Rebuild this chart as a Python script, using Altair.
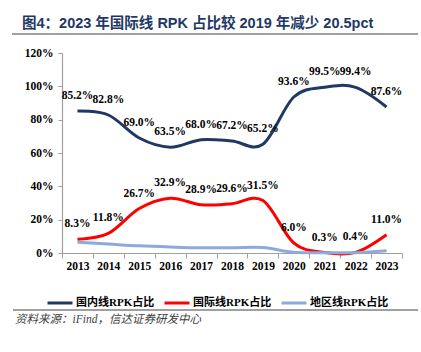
import altair as alt
import pandas as pd

years = ["2013", "2014", "2015", "2016", "2017", "2018", "2019", "2020", "2021", "2022", "2023"]
domestic = [85.2, 82.8, 69.0, 63.5, 68.0, 67.2, 65.2, 93.6, 99.5, 99.4, 87.6]
international = [8.3, 11.8, 26.7, 32.9, 28.9, 29.6, 31.5, 6.0, 0.3, 0.4, 11.0]
regional = [6.5, 5.4, 4.3, 3.6, 3.1, 3.2, 3.3, 0.4, 0.2, 0.2, 1.4]
series_names = ["国内线RPK占比", "国际线RPK占比", "地区线RPK占比"]
series_colors = ["#203864", "#FF0000", "#8EA9DB"]
y_ticks = [0, 20, 40, 60, 80, 100, 120]

title_text = "图4：2023 年国际线 RPK 占比较 2019 年减少 20.5pct"
source_text = "资料来源：iFind，信达证券研发中心"

rows = []
for name, vals in zip(series_names, [domestic, international, regional]):
    for y, v in zip(years, vals):
        rows.append({"year": y, "series": name, "value": v,
                     "label": f"{v:.1f}%"})
df = pd.DataFrame(rows)

SERIF = "Liberation Serif, Times New Roman, Noto Sans CJK SC"
SANS = "Liberation Sans, Arial, Noto Sans CJK SC"

x_scale = alt.Scale(type="band", paddingInner=0, paddingOuter=0)
y_scale = alt.Scale(domain=[0, 120], nice=False)

x_axis = alt.Axis(title=None, labelAngle=0, tickBand="extent",
                  labelFont=SERIF, labelFontWeight="bold", labelFontSize=11.5,
                  labelColor="#000000", domainColor="#A0A0A0", tickColor="#A0A0A0",
                  tickSize=5, labelPadding=2, domainWidth=1.2, labelOverlap=False)
y_axis = alt.Axis(title=None, values=y_ticks,
                  labelExpr="datum.value + '%'", grid=False, labelOverlap=False,
                  labelFont=SERIF, labelFontWeight="bold", labelFontSize=11.5,
                  labelColor="#000000", domainColor="#A0A0A0", tickColor="#A0A0A0",
                  tickSize=4, labelPadding=5, domainWidth=1.2)

x_enc = alt.X("year:N", sort=years, bandPosition=0.5, scale=x_scale, axis=x_axis)
y_enc = alt.Y("value:Q", scale=y_scale, axis=y_axis)

color_enc = alt.Color("series:N", sort=series_names,
                      scale=alt.Scale(domain=series_names, range=series_colors),
                      legend=alt.Legend(title=None, orient="none", legendX=-16, legendY=236,
                                        direction="horizontal", columns=3,
                                        symbolType="stroke", symbolSize=625,
                                        symbolStrokeWidth=3, labelFont=SERIF,
                                        labelFontWeight="bold", labelFontSize=11,
                                        labelColor="#000000", columnPadding=3,
                                        labelOffset=2))

base = alt.Chart(df)

lines = base.mark_line(interpolate="cardinal", strokeWidth=3).encode(
    x=x_enc, y=y_enc, color=color_enc)

labels = base.transform_filter(
    alt.FieldOneOfPredicate(field="series", oneOf=series_names[:2])
).mark_text(dy=-15, font=SERIF, fontWeight="bold", fontSize=11.5, color="#000000").encode(
    x=x_enc, y=y_enc, text="label:N")

one = alt.Data(values=[{"k": 1}])
title = alt.Chart(one).mark_text(text=title_text, align="left", baseline="middle",
                                 font=SANS, fontWeight="bold", fontSize=14.5,
                                 color="#1F3864").encode(x=alt.value(-40), y=alt.value(-29))
top_rule = alt.Chart(one).mark_rule(color="#808080", strokeWidth=1.5).encode(
    x=alt.value(-50), x2=alt.value(356), y=alt.value(-19))
bottom_rule = alt.Chart(one).mark_rule(color="#808080", strokeWidth=1.5).encode(
    x=alt.value(-49), x2=alt.value(356), y=alt.value(257))
source = alt.Chart(one).mark_text(text=source_text, align="left", baseline="middle",
                                  font=SERIF, fontStyle="italic", fontSize=11.5,
                                  color="#404040").encode(x=alt.value(-47), y=alt.value(267))

chart = alt.layer(lines, labels, title, top_rule, bottom_rule, source).properties(
    width=340, height=200,
    autosize=alt.AutoSizeParams(type="none"),
    padding={"left": 62, "top": 53, "right": 19, "bottom": 99},
    background="white",
).configure_view(stroke=None)

chart.save("out.html", embed_options={"renderer": "svg", "actions": False})
